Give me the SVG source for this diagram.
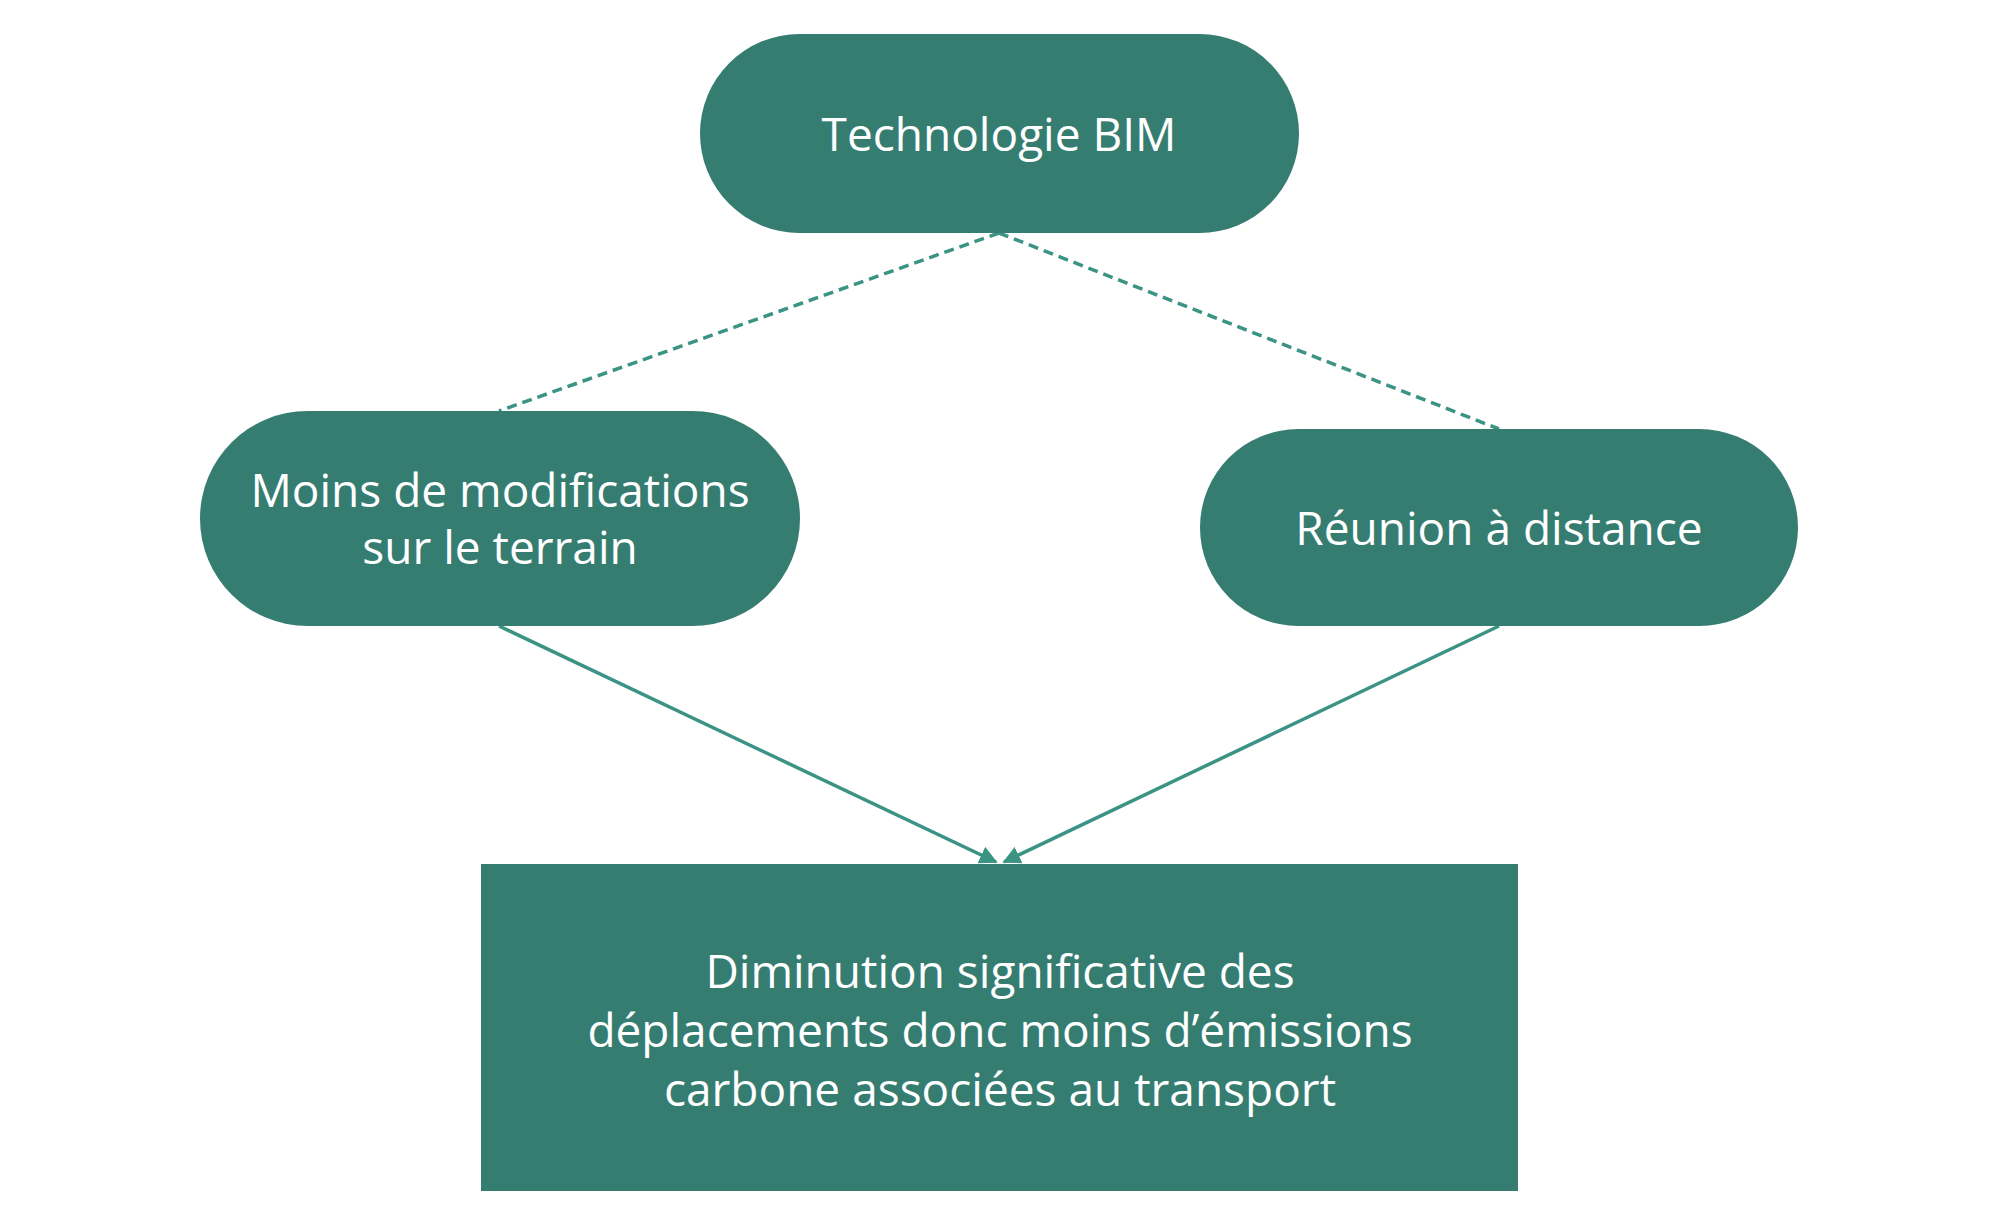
<svg xmlns="http://www.w3.org/2000/svg" width="2000" height="1227" viewBox="0 0 2000 1227">
<style>
.n{fill:#367d71}
.t{font-family:"Open Sans","DejaVu Sans",sans-serif;font-size:46px;fill:#fff;text-anchor:middle;font-weight:500}
.c{stroke:#3a9383;stroke-width:3.5;fill:none}
.d{stroke-dasharray:10,6}
</style>
<defs><marker id="a" viewBox="0 0 10 10" refX="9" refY="5" markerWidth="6" markerHeight="6" orient="auto-start-reverse" markerUnits="userSpaceOnUse" ><path d="M0,0L10,5L0,10z" fill="#3a9383"/></marker>
<marker id="ah" viewBox="0 0 10 10" refX="9" refY="5" markerWidth="18" markerHeight="18" orient="auto" markerUnits="userSpaceOnUse"><path d="M0,0L10,5L0,10z" fill="#3a9383"/></marker></defs>
<rect width="2000" height="1227" fill="#fff"/>
<g id="connectors">
<path class="c d" d="M999,233L499,411"/>
<path class="c d" d="M999,233L1499,429"/>
<path class="c" d="M499,626L996,862" marker-end="url(#ah)"/>
<path class="c" d="M1499,626L1004,862" marker-end="url(#ah)"/>
</g>
<g id="bim"><rect class="n" x="700" y="34" width="599" height="199" rx="99.5"/><text class="t" x="999" y="151">Technologie BIM</text></g>
<g id="moins"><rect class="n" x="200" y="411" width="600" height="215" rx="107.5"/><text class="t" x="500" y="507">Moins de modifications</text><text class="t" x="500" y="564">sur le terrain</text></g>
<g id="reunion"><rect class="n" x="1200" y="429" width="598" height="197" rx="98.5"/><text class="t" x="1499" y="545">Réunion à distance</text></g>
<g id="diminution"><rect class="n" x="481" y="864" width="1037" height="327"/><text class="t" x="1000" y="988">Diminution significative des</text><text class="t" x="1000" y="1047">déplacements donc moins d’émissions</text><text class="t" x="1000" y="1106">carbone associées au transport</text></g>
</svg>
